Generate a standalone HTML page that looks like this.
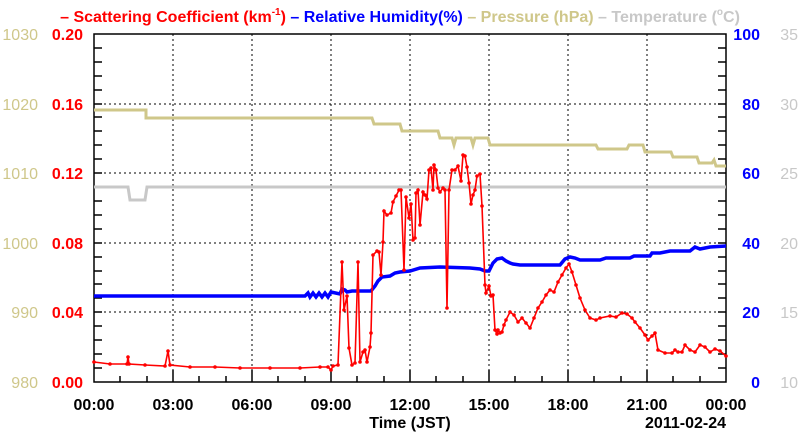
<!DOCTYPE html>
<html><head><meta charset="utf-8"><style>
html,body{margin:0;padding:0;background:#fff;}
svg{display:block;font-family:"Liberation Sans",sans-serif;}
</style></head><body>
<svg width="800" height="434" viewBox="0 0 800 434" xmlns="http://www.w3.org/2000/svg">
<defs>
<marker id="rd" markerWidth="4" markerHeight="4" refX="2" refY="2" markerUnits="userSpaceOnUse"><circle cx="2" cy="2" r="1.8" fill="#ff0000"/></marker>
<marker id="bd" markerWidth="5" markerHeight="5" refX="2.5" refY="2.5" markerUnits="userSpaceOnUse"><circle cx="2.5" cy="2.5" r="2.2" fill="#0000ff"/></marker>
</defs>
<!-- title -->
<text x="400" y="22" text-anchor="middle" font-size="16" font-weight="bold"><tspan fill="#ff0000">– Scattering Coefficient (km</tspan><tspan fill="#ff0000" font-size="10" dy="-7">-1</tspan><tspan fill="#ff0000" dy="7">)</tspan><tspan fill="#0000ff"> – Relative Humidity(%)</tspan><tspan fill="#cfc78a"> – Pressure (hPa)</tspan><tspan fill="#c8c8c8"> – Temperature (</tspan><tspan fill="#c8c8c8" font-size="10" dy="-7">o</tspan><tspan fill="#c8c8c8" dy="7">C)</tspan></text>
<!-- grid -->
<g stroke="#000" stroke-width="1" stroke-dasharray="2,3">
<line x1="173" y1="34" x2="173" y2="382"/><line x1="252" y1="34" x2="252" y2="382"/><line x1="331" y1="34" x2="331" y2="382"/><line x1="410" y1="34" x2="410" y2="382"/><line x1="489" y1="34" x2="489" y2="382"/><line x1="568" y1="34" x2="568" y2="382"/><line x1="647" y1="34" x2="647" y2="382"/>
<line x1="94" y1="104" x2="726" y2="104"/><line x1="94" y1="173" x2="726" y2="173"/><line x1="94" y1="243" x2="726" y2="243"/><line x1="94" y1="312" x2="726" y2="312"/>
</g>
<!-- ticks -->
<g stroke="#000" stroke-width="1.5">
<path d="M94 48h8M94 62h8M94 76h8M94 90h8M94 104h8M94 117h8M94 131h8M94 145h8M94 159h8M94 173h8M94 187h8M94 201h8M94 215h8M94 229h8M94 243h8M94 257h8M94 271h8M94 284h8M94 298h8M94 312h8M94 326h8M94 340h8M94 354h8M94 368h8"/>
<path d="M726 48h-8M726 62h-8M726 76h-8M726 90h-8M726 104h-8M726 117h-8M726 131h-8M726 145h-8M726 159h-8M726 173h-8M726 187h-8M726 201h-8M726 215h-8M726 229h-8M726 243h-8M726 257h-8M726 271h-8M726 284h-8M726 298h-8M726 312h-8M726 326h-8M726 340h-8M726 354h-8M726 368h-8"/>
<path d="M120 382v-6M147 382v-6M173 382v-12M199 382v-6M226 382v-6M252 382v-12M278 382v-6M305 382v-6M331 382v-12M357 382v-6M384 382v-6M410 382v-12M436 382v-6M463 382v-6M489 382v-12M515 382v-6M542 382v-6M568 382v-12M594 382v-6M621 382v-6M647 382v-12M673 382v-6M700 382v-6"/>
</g>
<rect x="94" y="34" width="632" height="348" fill="none" stroke="#000" stroke-width="1.5"/>
<!-- temperature -->
<polyline fill="none" stroke="#c8c8c8" stroke-width="3" points="94,187 128,187 130,200 145,200 147,187 726,187"/>
<!-- pressure -->
<polyline fill="none" stroke="#cfc78a" stroke-width="3" points="94,110 146,110 146,118 372,118 374,124 400,124 402,131 438,131 440,138 452,138 454,145 456,138 471,138 473,145 475,138 488,138 490,145 596,145 598,149 627,149 629,145 643,145 645,152 671,152 673,157 697,157 699,163 712,163 714,160 716,166 726,166"/>
<!-- RH -->
<polyline fill="none" stroke="#0000ff" stroke-width="3.5" points="94,296 305,296 308,293 310,297 313,293 316,297 319,293 322,297 325,293 328,297 331,292 340,294 342,289 345,290 347,292 352,291 371,291 375,286 378,281 382,277 390,276 395,273 400,272 410,271 420,268 440,267 470,268 480,269 485,271 489,271 493,263 497,259 502,258 506,261 510,263 513,264 520,265 560,265 565,259 570,257 575,258 580,260 600,260 606,258 630,258 634,256 650,256 652,253 660,253 670,251 690,251 695,247 700,249 710,247 726,246"/>
<!-- scattering -->
<polyline fill="none" stroke="#ff0000" stroke-width="1.6" marker-start="url(#rd)" marker-mid="url(#rd)" marker-end="url(#rd)" points="94,362 110,364 127,364 128,357 129,364 145,365 165,366 168,351 170,365 190,367 215,367 240,368 270,368 300,368 320,367 328,367 331,370 333,366 338,365 342,262 344,310 347,296 349,348 352,365 355,363 358,262 360,362 363,352 365,350 367,362 370,347 371,333 373,255 377,251 379,252 381,275 383,242 384,211 387,215 391,213 393,202 396,196 399,190 401,190 404,270 406,197 409,218 411,204 413,240 415,238 416,193 418,190 420,225 423,192 425,195 427,199 429,170 431,168 433,190 434,165 436,170 438,188 440,192 443,188 445,190 447,308 449,190 452,170 455,170 458,166 461,181 463,155 465,156 467,167 469,183 471,204 473,195 475,190 477,176 480,174 482,206 485,285 486,293 489,286 491,296 493,295 495,330 497,334 498,330 500,333 502,332 504,325 506,320 510,312 514,315 518,322 522,318 526,323 530,328 534,318 538,308 542,302 546,295 550,290 554,292 558,282 562,275 566,268 569,264 572,272 576,285 580,298 585,310 590,318 596,320 600,318 610,316 616,317 622,313 627,314 632,318 635,322 640,328 645,335 648,340 652,336 655,333 658,350 665,353 672,353 675,350 678,352 682,352 685,345 690,350 695,352 700,345 705,347 710,352 715,349 720,351 726,356"/>
<!-- left labels -->
<g font-size="16" fill="#cfc78a" text-anchor="end">
<text x="38" y="40">1030</text><text x="38" y="110">1020</text><text x="38" y="179">1010</text><text x="38" y="249">1000</text><text x="38" y="318">990</text><text x="38" y="388">980</text>
</g>
<g font-size="16" font-weight="bold" fill="#ff0000" text-anchor="end">
<text x="83" y="40">0.20</text><text x="83" y="110">0.16</text><text x="83" y="179">0.12</text><text x="83" y="249">0.08</text><text x="83" y="318">0.04</text><text x="83" y="388">0.00</text>
</g>
<!-- right labels -->
<g font-size="16" font-weight="bold" fill="#0000ff" text-anchor="end">
<text x="760" y="40">100</text><text x="760" y="110">80</text><text x="760" y="179">60</text><text x="760" y="249">40</text><text x="760" y="318">20</text><text x="760" y="388">0</text>
</g>
<g font-size="16" fill="#c8c8c8" text-anchor="end">
<text x="798" y="40">35</text><text x="798" y="110">30</text><text x="798" y="179">25</text><text x="798" y="249">20</text><text x="798" y="318">15</text><text x="798" y="388">10</text>
</g>
<!-- x labels -->
<g font-size="16" font-weight="bold" fill="#000" text-anchor="middle">
<text x="94" y="410">00:00</text><text x="173" y="410">03:00</text><text x="252" y="410">06:00</text><text x="331" y="410">09:00</text><text x="410" y="410">12:00</text><text x="489" y="410">15:00</text><text x="568" y="410">18:00</text><text x="647" y="410">21:00</text><text x="726" y="410">00:00</text>
<text x="410" y="428">Time (JST)</text>
<text x="726" y="428" text-anchor="end">2011-02-24</text>
</g>
</svg>
</body></html>
